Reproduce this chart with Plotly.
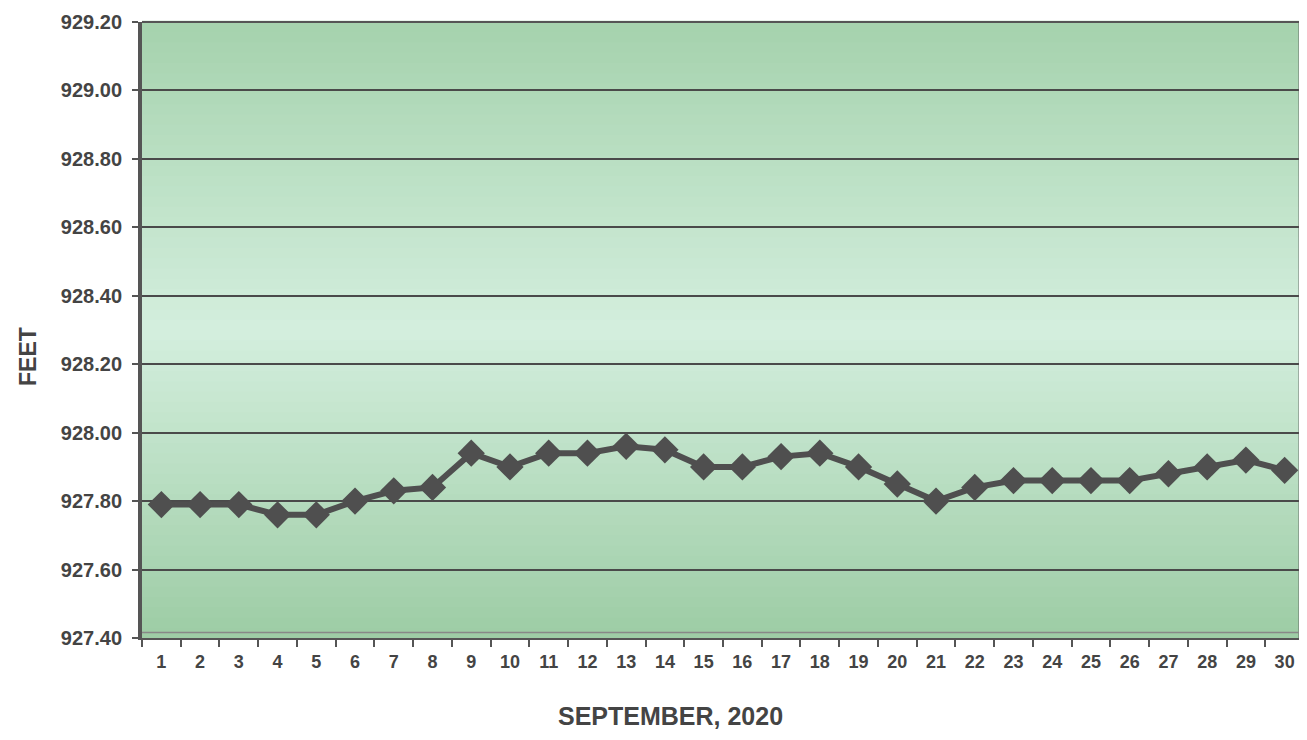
import plotly.graph_objects as go

days = list(range(1, 31))
day_labels = [str(d) for d in days]
elevation = [927.79, 927.79, 927.79, 927.76, 927.76, 927.80, 927.83, 927.84, 927.94, 927.90,
             927.94, 927.94, 927.96, 927.95, 927.90, 927.90, 927.93, 927.94, 927.90, 927.85,
             927.80, 927.84, 927.86, 927.86, 927.86, 927.86, 927.88, 927.90, 927.92, 927.89]
y_ticks = [927.40, 927.60, 927.80, 928.00, 928.20, 928.40, 928.60, 928.80, 929.00, 929.20]
y_tick_text = [f"<b>{v:.2f}</b>" for v in y_ticks]
x_title = "SEPTEMBER, 2020"
y_title = "FEET"

fig = go.Figure()

# gradient background (dark at top/bottom, light in middle)
top = (166, 211, 174)
mid = (212, 239, 222)
bot = (158, 205, 166)
n = 60
shapes = []
for i in range(n):
    t = i / (n - 1)
    if t < 0.5:
        a, b, f = bot, mid, t / 0.5
    else:
        a, b, f = mid, top, (t - 0.5) / 0.5
    c = tuple(int(a[k] + (b[k] - a[k]) * f) for k in range(3))
    shapes.append(dict(type="rect", xref="x domain", yref="y domain",
                       x0=0, x1=1, y0=i / n, y1=(i + 1) / n + 0.002,
                       fillcolor=f"rgb{c}", line=dict(width=0), layer="below"))
# borders
shapes.append(dict(type="line", xref="x domain", yref="y domain", x0=0, x1=1, y0=1, y1=1,
                   line=dict(color="#555", width=2)))
shapes.append(dict(type="line", xref="x domain", yref="y domain", x0=0.996, x1=0.996, y0=0, y1=1,
                   line=dict(color="#555", width=1.5)))
shapes.append(dict(type="line", xref="x domain", yref="y domain", x0=1, x1=1, y0=0, y1=1,
                   line=dict(color="#555", width=1.5)))
shapes.append(dict(type="line", xref="x domain", yref="y domain", x0=0, x1=1, y0=0.009, y1=0.009,
                   line=dict(color="#888", width=1.5)))

fig.add_trace(go.Scatter(
    x=days, y=elevation, mode="lines+markers",
    line=dict(color="#4f4f4f", width=6),
    marker=dict(symbol="diamond", size=21, color="#4f4f4f"),
    showlegend=False,
))

font_fam = "Liberation Sans, Arial, sans-serif"
W, H = 1296, 732
fig.update_layout(
    width=W, height=H,
    margin=dict(l=134, r=0, t=14, b=102),
    paper_bgcolor="white",
    plot_bgcolor="rgba(0,0,0,0)",
    shapes=shapes,
    font=dict(family=font_fam, color="#444", size=15),
    xaxis=dict(
        range=[0.5, 30.5], tickmode="array", tickvals=days,
        ticktext=[f"<b>{s}</b>" for s in day_labels],
        showgrid=False, zeroline=False, showline=True, linecolor="#555", linewidth=2,
        ticks="", ticklabelstandoff=6, tickfont=dict(size=18, family=font_fam, color="#444"),
        minor=dict(tickmode="array", tickvals=[d + 0.5 for d in range(0, 31)],
                   ticks="outside", ticklen=7, tickcolor="#555", tickwidth=2),
    ),
    yaxis=dict(
        range=[927.40, 929.20], tickmode="array", tickvals=y_ticks, ticktext=y_tick_text,
        showgrid=True, gridcolor="#4a4a4a", gridwidth=2, zeroline=False,
        showline=True, linecolor="#555", linewidth=4,
        ticks="outside", ticklen=6, tickcolor="#555", tickwidth=2,
        ticklabelstandoff=6,
        tickfont=dict(size=20, family=font_fam, color="#444"),
    ),
    annotations=[
        dict(text=f"<b>{x_title}</b>", xref="paper", yref="paper",
             x=(670 - 8 - 134) / (W - 134), y=-(716 - 8 - 14 - 616) / 616,
             xanchor="center", yanchor="middle", showarrow=False,
             font=dict(size=25, color="#444", family=font_fam)),
        dict(text=f"<b>{y_title}</b>", xref="paper", yref="paper",
             x=-(134 + 8 - 28) / (W - 134), y=1 - (356 - 8 - 14) / 616,
             xanchor="center", yanchor="middle", showarrow=False, textangle=-90,
             font=dict(size=23, color="#444", family=font_fam)),
    ],
)

fig.write_html("out.html")
